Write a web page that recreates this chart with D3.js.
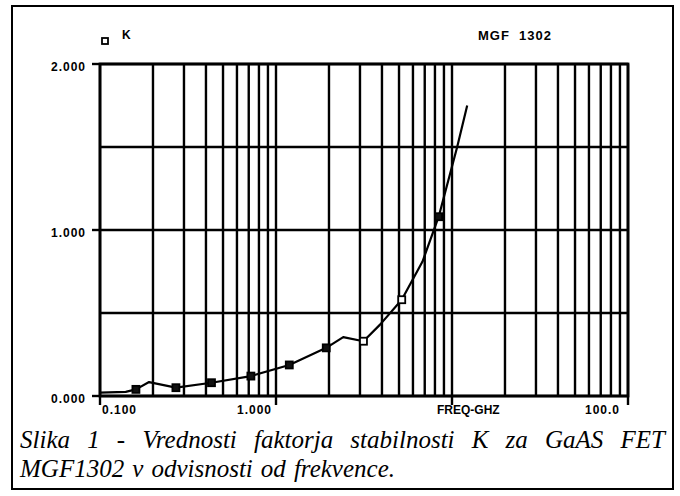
<!DOCTYPE html>
<html><head><meta charset="utf-8">
<script src="https://cdn.jsdelivr.net/npm/d3@7"></script>
<style>body{margin:0;background:#fff}</style>
</head><body><svg id="c" width="680" height="496"></svg>
<script>
// ---- data ----
const curveFreq = [0.1, 0.14, 0.16, 0.19, 0.27, 0.43, 0.72, 1.19, 1.93, 2.41, 3.14, 3.9, 5.18, 6.8, 8.4, 10.7, 12.2];
const curveK    = [0.02, 0.025, 0.04, 0.084, 0.05, 0.08, 0.12, 0.187, 0.29, 0.355, 0.33, 0.43, 0.58, 0.81, 1.08, 1.5, 1.75];
const markerFreq = [0.16, 0.27, 0.43, 0.72, 1.19, 1.93, 3.14, 5.18, 8.4];
const markerK    = [0.04, 0.05, 0.08, 0.12, 0.187, 0.29, 0.33, 0.58, 1.08];
const yTicks = [0, 0.5, 1, 1.5, 2];
const yTickLabels = ["0.000", "", "1.000", "", "2.000"];
const xLabelFreq = [0.1, 1, 10, 100];
const xTickLabels = ["0.100", "1.000", "FREQ-GHZ", "100.0"];
const legendLabel = "K";
const titleLabel = "MGF  1302";
const captionLines = ["Slika 1 - Vrednosti faktorja stabilnosti K za GaAS FET",
                      "MGF1302 v odvisnosti od frekvence."];

// ---- drawing ----
const svg = d3.select("#c");
const L = 100, R = 628, T = 64, B = 396;
const x = d3.scaleLog().domain([0.1, 100]).range([L, R]);
const y = d3.scaleLinear().domain([0, 2]).range([B, T]);

// outer frame
svg.append("rect").attr("x", 12).attr("y", 6).attr("width", 661).attr("height", 483)
  .attr("fill", "none").attr("stroke", "#000").attr("stroke-width", 2);

// vertical grid lines
const vGrid = [];
[0.1, 1, 10].forEach(d => { for (let m = 1; m <= 9; m++) vGrid.push(d * m); });
vGrid.push(100);
svg.append("g").selectAll("line").data(vGrid).join("line")
  .attr("x1", d => x(d)).attr("x2", d => x(d)).attr("y1", T).attr("y2", B)
  .attr("stroke", "#000").attr("stroke-width", 2.4);

// horizontal grid lines
svg.append("g").selectAll("line").data(yTicks).join("line")
  .attr("x1", L).attr("x2", R).attr("y1", d => y(d)).attr("y2", d => y(d))
  .attr("stroke", "#000").attr("stroke-width", 2.4);

// frame of plot
svg.append("rect").attr("x", L).attr("y", T).attr("width", R - L).attr("height", B - T)
  .attr("fill", "none").attr("stroke", "#000").attr("stroke-width", 2.8);

// y ticks (outside) and labels
const labFont = "'Liberation Sans Narrow','Liberation Sans',Arial,sans-serif";
yTicks.forEach((v, i) => {
  if (!yTickLabels[i]) return;
  svg.append("line").attr("x1", L - 8).attr("x2", L).attr("y1", y(v)).attr("y2", y(v))
    .attr("stroke", "#000").attr("stroke-width", 2.4);
  svg.append("text").attr("x", 86).attr("y", y(v) + 4)
    .attr("text-anchor", "end").attr("dominant-baseline", "middle")
    .attr("font-family", labFont).attr("font-weight", "bold").attr("font-size", 12)
    .attr("letter-spacing", 1).text(yTickLabels[i]);
});

// x ticks (below) and labels
const xAnchor = ["start", "end", "start", "end"];
const xOff = [2, -4, -15, -8];
xLabelFreq.forEach((f, i) => {
  svg.append("line").attr("x1", x(f)).attr("x2", x(f)).attr("y1", B).attr("y2", B + 9)
    .attr("stroke", "#000").attr("stroke-width", 2.4);
  svg.append("text").attr("x", x(f) + xOff[i]).attr("y", 414)
    .attr("text-anchor", xAnchor[i])
    .attr("font-family", labFont).attr("font-weight", "bold").attr("font-size", 12)
    .attr("letter-spacing", i === 2 ? 0 : 1).text(xTickLabels[i]);
});

// curve
const pts = curveFreq.map((f, i) => [f, curveK[i]]);
svg.append("path").datum(pts)
  .attr("d", d3.line().x(d => x(d[0])).y(d => y(d[1])))
  .attr("fill", "none").attr("stroke", "#000").attr("stroke-width", 2.2)
  .attr("stroke-linejoin", "round");

// markers
const hollow = new Set([6, 7]);
svg.append("g").selectAll("rect").data(markerFreq.map((f, i) => [f, markerK[i], i])).join("rect")
  .attr("x", d => x(d[0]) - 3.5).attr("y", d => y(d[1]) - 3.5)
  .attr("width", 7).attr("height", 7)
  .attr("fill", d => hollow.has(d[2]) ? "#fff" : "#111")
  .attr("stroke", "#000").attr("stroke-width", 1.8);

// legend
svg.append("rect").attr("x", 102).attr("y", 38).attr("width", 6).attr("height", 6)
  .attr("fill", "#fff").attr("stroke", "#000").attr("stroke-width", 1.8);
svg.append("text").attr("x", 122).attr("y", 39).attr("font-family", labFont)
  .attr("font-weight", "bold").attr("font-size", 12).text(legendLabel);
svg.append("text").attr("x", 478).attr("y", 40).attr("font-family", labFont)
  .attr("font-weight", "bold").attr("font-size", 13).attr("letter-spacing", 1)
  .attr("xml:space", "preserve").style("white-space", "pre").text(titleLabel);

// caption
const capFont = "'Liberation Serif','Times New Roman',serif";
function justify(sel, target) {
  const nat = sel.node().getComputedTextLength();
  const spaces = sel.text().split(" ").length - 1;
  sel.attr("word-spacing", (target - nat) / spaces);
}
const c1 = svg.append("text").attr("x", 20).attr("y", 448)
  .attr("font-family", capFont).attr("font-style", "italic").attr("font-size", 25)
  .text(captionLines[0]);
justify(c1, 645);
const c2 = svg.append("text").attr("x", 20).attr("y", 477)
  .attr("font-family", capFont).attr("font-style", "italic").attr("font-size", 25)
  .text(captionLines[1]);
justify(c2, 375);
</script></body></html>
